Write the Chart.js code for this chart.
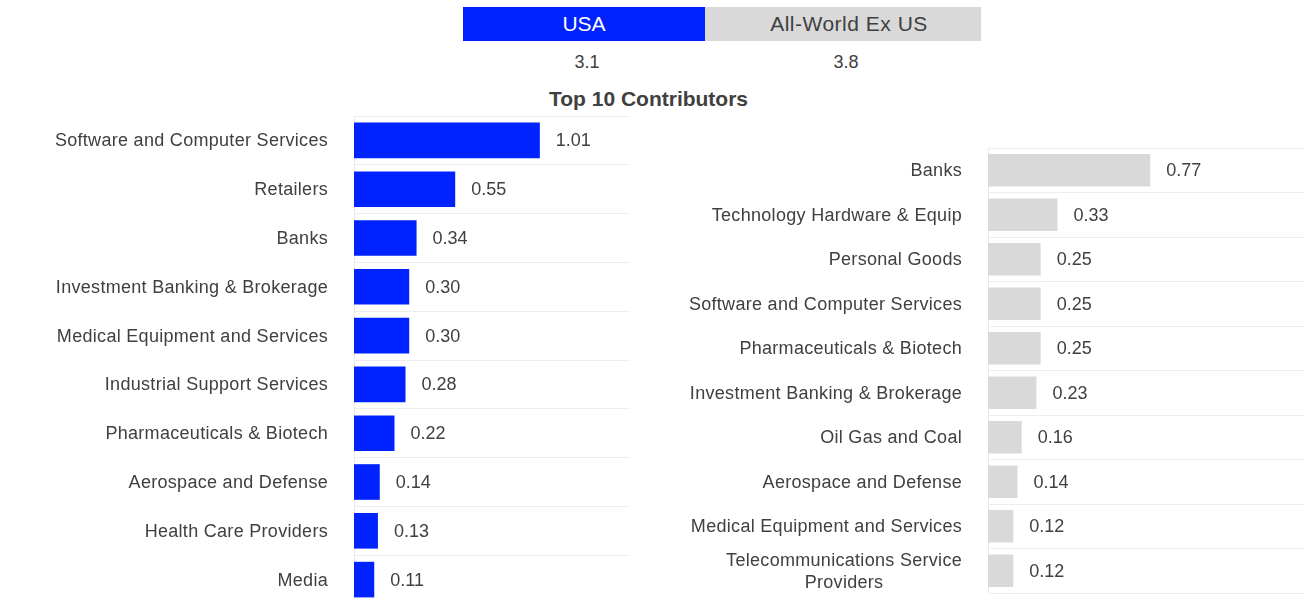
<!DOCTYPE html>
<html>
<head>
<meta charset="utf-8">
<title>Top 10 Contributors</title>
<script src="https://cdn.jsdelivr.net/npm/chart.js@4/dist/chart.umd.min.js"></script>
<style>
  html, body { margin: 0; padding: 0; background: #ffffff; }
  body {
    width: 1312px; height: 599px; overflow: hidden; position: relative;
    font-family: "Liberation Sans", Arial, sans-serif; color: #404040;
  }
  .region { position: absolute; top: 7px; height: 34px; line-height: 34px; text-align: center; font-size: 21px; }
  .total { position: absolute; top: 52px; height: 20px; line-height: 20px; text-align: center; font-size: 18px; }
  .title { position: absolute; top: 87px; left: 448px; width: 401px; line-height: 24px; text-align: center; font-size: 21px; font-weight: bold; }
  .panel { position: absolute; }
</style>
</head>
<body>
<div id="header"></div>
<div class="title">Top 10 Contributors</div>
<div class="panel" style="left:0;top:110px;width:640px;height:500px;"><canvas id="usaChart"></canvas></div>
<div class="panel" style="left:660px;top:140px;width:652px;height:460px;"><canvas id="worldChart"></canvas></div>

<script>
// Regions and their total contribution
const regions = ['USA', 'All-World Ex US'];
const regionTotals = [3.1, 3.8];

// USA: top 10 contributing sectors
const usaSectors = [
  'Software and Computer Services',
  'Retailers',
  'Banks',
  'Investment Banking & Brokerage',
  'Medical Equipment and Services',
  'Industrial Support Services',
  'Pharmaceuticals & Biotech',
  'Aerospace and Defense',
  'Health Care Providers',
  'Media'
];
const usaValues = [1.01, 0.55, 0.34, 0.30, 0.30, 0.28, 0.22, 0.14, 0.13, 0.11];

// All-World ex US: top 10 contributing sectors
const worldSectors = [
  'Banks',
  'Technology Hardware & Equip',
  'Personal Goods',
  'Software and Computer Services',
  'Pharmaceuticals & Biotech',
  'Investment Banking & Brokerage',
  'Oil Gas and Coal',
  'Aerospace and Defense',
  'Medical Equipment and Services',
  ['Telecommunications Service', 'Providers']
];
const worldValues = [0.77, 0.33, 0.25, 0.25, 0.25, 0.23, 0.16, 0.14, 0.12, 0.12];

const BLUE = '#0022ff';
const GREY = '#d9d9d9';
const TEXT = '#404040';
const FONT = '"Liberation Sans", Arial, sans-serif';

// Header: region boxes with their totals underneath
const columns = [
  { left: 463, width: 242, bg: BLUE, fg: '#ffffff', spacing: '0px', indent: '0px' },
  { left: 705, width: 276, bg: GREY, fg: TEXT, spacing: '0.5px', indent: '12px' }
];
const header = document.getElementById('header');
regions.forEach((name, i) => {
  const c = columns[i];
  const box = document.createElement('div');
  box.className = 'region';
  box.style.left = c.left + 'px';
  box.style.width = c.width + 'px';
  box.style.background = c.bg;
  box.style.color = c.fg;
  box.style.letterSpacing = c.spacing;
  box.style.textIndent = c.indent;
  box.textContent = name;
  header.appendChild(box);

  const tot = document.createElement('div');
  tot.className = 'total';
  tot.style.left = (c.left + 3) + 'px';
  tot.style.width = c.width + 'px';
  tot.textContent = regionTotals[i].toFixed(1);
  header.appendChild(tot);
});

// Category labels: right-aligned; wrapped labels are centred line by line
const sectorLabels = {
  id: 'sectorLabels',
  afterDraw(chart) {
    const { ctx, chartArea } = chart;
    const yScale = chart.scales.y;
    const xRight = chartArea.left - 26;
    ctx.save();
    ctx.font = '18px ' + FONT;
    ctx.letterSpacing = '0.3px';
    ctx.fillStyle = TEXT;
    ctx.textBaseline = 'middle';
    chart.data.labels.forEach((label, i) => {
      const y = yScale.getPixelForValue(i) + 1;
      if (Array.isArray(label)) {
        const w = Math.max(...label.map(l => ctx.measureText(l).width));
        const cx = xRight - w / 2;
        ctx.textAlign = 'center';
        label.forEach((line, k) => {
          ctx.fillText(line, cx, y + (k - (label.length - 1) / 2) * 22);
        });
      } else {
        ctx.textAlign = 'right';
        ctx.fillText(label, xRight, y);
      }
    });
    ctx.letterSpacing = '0px';
    ctx.restore();
  }
};

// Value printed just past the end of each bar
const valueLabels = {
  id: 'valueLabels',
  afterDatasetsDraw(chart) {
    const { ctx } = chart;
    const ds = chart.data.datasets[0];
    ctx.save();
    ctx.font = '18px ' + FONT;
    ctx.fillStyle = TEXT;
    ctx.textAlign = 'left';
    ctx.textBaseline = 'middle';
    chart.getDatasetMeta(0).data.forEach((bar, i) => {
      ctx.fillText(ds.data[i].toFixed(2), bar.x + 16, bar.y + 1);
    });
    ctx.restore();
  }
};

function sectorChart(id, labels, values, color, axisWidth, pad) {
  return new Chart(document.getElementById(id), {
    type: 'bar',
    data: {
      labels: labels,
      datasets: [{
        data: values,
        backgroundColor: color,
        borderWidth: 0,
        categoryPercentage: 1,
        barPercentage: 0.73
      }]
    },
    options: {
      indexAxis: 'y',
      responsive: true,
      maintainAspectRatio: false,
      animation: false,
      events: [],
      layout: { padding: pad },
      plugins: { legend: { display: false }, tooltip: { enabled: false } },
      scales: {
        x: { display: false, min: 0, max: 1.5 },
        y: {
          grid: { offset: true, color: '#eeeeee', lineWidth: 1, drawTicks: false },
          border: { display: true, color: '#eaeaea', width: 1 },
          ticks: { display: false },
          afterFit(scale) { scale.width = axisWidth; }
        }
      }
    },
    plugins: [sectorLabels, valueLabels]
  });
}

sectorChart('usaChart', usaSectors, usaValues, BLUE, 354, { top: 6, bottom: 6, left: 0, right: 10 });
sectorChart('worldChart', worldSectors, worldValues, GREY, 328, { top: 8, bottom: 7, left: 0, right: 8 });
</script>
</body>
</html>
